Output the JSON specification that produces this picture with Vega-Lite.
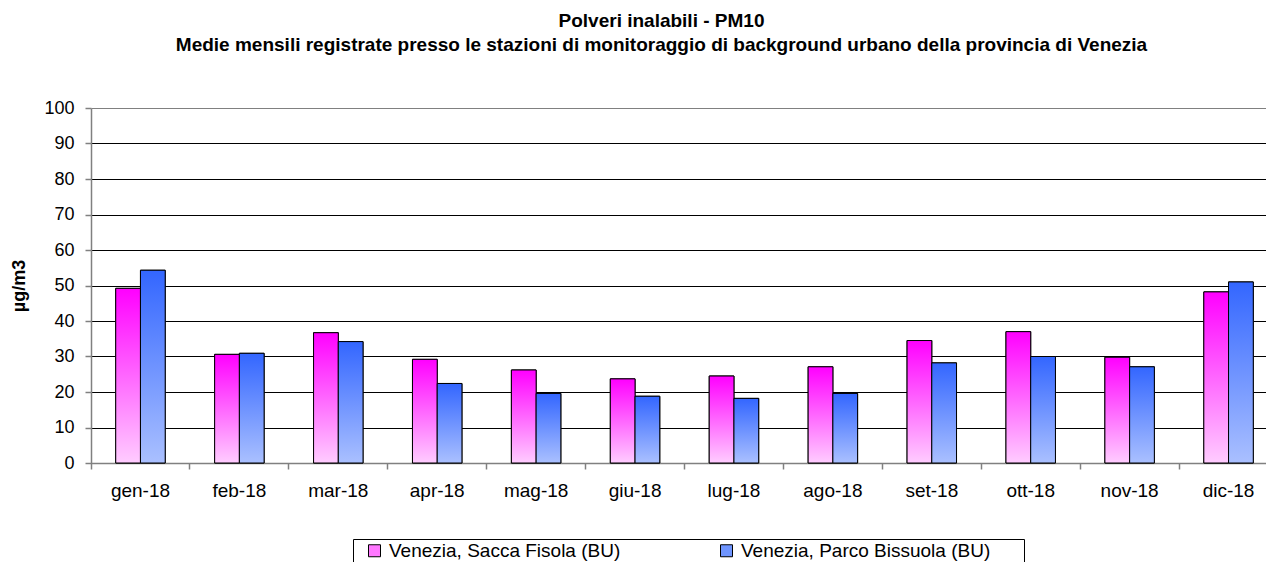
{
  "$schema": "https://vega.github.io/schema/vega-lite/v6.json",
  "autosize": "none",
  "width": 1175,
  "height": 355,
  "padding": {"left": 91, "top": 108, "right": 0, "bottom": 99},
  "background": "white",
  "config": {
    "font": "Liberation Sans",
    "view": {"stroke": null}
  },
  "title": {
    "text": "Polveri inalabili - PM10",
    "subtitle": "Medie mensili registrate presso le stazioni di monitoraggio di background urbano della provincia di Venezia",
    "anchor": "middle",
    "frame": "group",
    "dx": -17,
    "offset": 44,
    "font": "Liberation Sans",
    "fontSize": 19,
    "fontWeight": "bold",
    "color": "black",
    "subtitleFont": "Liberation Sans",
    "subtitleFontSize": 19,
    "subtitleFontWeight": "bold",
    "subtitleColor": "black",
    "subtitlePadding": 5
  },
  "data": {
    "values": [
      {"mese": "gen-18", "stazione": "Venezia, Sacca Fisola (BU)", "valore": 49.2},
      {"mese": "gen-18", "stazione": "Venezia, Parco Bissuola (BU)", "valore": 54.3},
      {"mese": "feb-18", "stazione": "Venezia, Sacca Fisola (BU)", "valore": 30.6},
      {"mese": "feb-18", "stazione": "Venezia, Parco Bissuola (BU)", "valore": 30.9},
      {"mese": "mar-18", "stazione": "Venezia, Sacca Fisola (BU)", "valore": 36.7},
      {"mese": "mar-18", "stazione": "Venezia, Parco Bissuola (BU)", "valore": 34.2},
      {"mese": "apr-18", "stazione": "Venezia, Sacca Fisola (BU)", "valore": 29.2},
      {"mese": "apr-18", "stazione": "Venezia, Parco Bissuola (BU)", "valore": 22.4},
      {"mese": "mag-18", "stazione": "Venezia, Sacca Fisola (BU)", "valore": 26.2},
      {"mese": "mag-18", "stazione": "Venezia, Parco Bissuola (BU)", "valore": 19.6},
      {"mese": "giu-18", "stazione": "Venezia, Sacca Fisola (BU)", "valore": 23.7},
      {"mese": "giu-18", "stazione": "Venezia, Parco Bissuola (BU)", "valore": 18.8},
      {"mese": "lug-18", "stazione": "Venezia, Sacca Fisola (BU)", "valore": 24.5},
      {"mese": "lug-18", "stazione": "Venezia, Parco Bissuola (BU)", "valore": 18.2},
      {"mese": "ago-18", "stazione": "Venezia, Sacca Fisola (BU)", "valore": 27.1},
      {"mese": "ago-18", "stazione": "Venezia, Parco Bissuola (BU)", "valore": 19.6},
      {"mese": "set-18", "stazione": "Venezia, Sacca Fisola (BU)", "valore": 34.5},
      {"mese": "set-18", "stazione": "Venezia, Parco Bissuola (BU)", "valore": 28.2},
      {"mese": "ott-18", "stazione": "Venezia, Sacca Fisola (BU)", "valore": 37.0},
      {"mese": "ott-18", "stazione": "Venezia, Parco Bissuola (BU)", "valore": 30.0},
      {"mese": "nov-18", "stazione": "Venezia, Sacca Fisola (BU)", "valore": 29.8},
      {"mese": "nov-18", "stazione": "Venezia, Parco Bissuola (BU)", "valore": 27.1},
      {"mese": "dic-18", "stazione": "Venezia, Sacca Fisola (BU)", "valore": 48.2},
      {"mese": "dic-18", "stazione": "Venezia, Parco Bissuola (BU)", "valore": 51.0}
    ]
  },
  "encoding": {
    "x": {
      "field": "mese",
      "type": "nominal",
      "sort": ["gen-18", "feb-18", "mar-18", "apr-18", "mag-18", "giu-18", "lug-18", "ago-18", "set-18", "ott-18", "nov-18", "dic-18"],
      "scale": {"range": [0, 1187], "paddingInner": 0, "paddingOuter": 0},
      "axis": {
        "title": null,
        "labelAngle": 0,
        "labelFont": "Liberation Sans",
        "labelFontSize": 19,
        "labelColor": "black",
        "labelPadding": 12,
        "domainColor": "#808080",
        "domainWidth": 1.5,
        "tickColor": "#808080",
        "tickWidth": 1.5,
        "tickSize": 6,
        "bandPosition": 0,
        "grid": false
      }
    },
    "xOffset": {
      "field": "stazione",
      "type": "nominal",
      "sort": ["Venezia, Sacca Fisola (BU)", "Venezia, Parco Bissuola (BU)"],
      "scale": {"paddingInner": 0, "paddingOuter": 1.25}
    },
    "y": {
      "field": "valore",
      "type": "quantitative",
      "scale": {"domain": [0, 100], "nice": false},
      "axis": {
        "title": "µg/m3",
        "titleFont": "Liberation Sans",
        "titleFontSize": 18,
        "titleFontWeight": "bold",
        "titleColor": "black",
        "titlePadding": 15,
        "values": [0, 10, 20, 30, 40, 50, 60, 70, 80, 90, 100],
        "labelFont": "Liberation Sans",
        "labelFontSize": 18,
        "labelColor": "black",
        "labelPadding": 11,
        "domainColor": "#808080",
        "domainWidth": 1.5,
        "tickColor": "#808080",
        "tickWidth": 1.5,
        "tickSize": 6,
        "grid": true,
        "gridColor": {"condition": {"test": "datum.value === 100", "value": "#808080"}, "value": "black"},
        "gridWidth": 1.2
      }
    }
  },
  "layer": [
    {
      "mark": {"type": "bar", "stroke": "black", "strokeWidth": 1},
      "encoding": {
        "color": {
          "field": "stazione",
          "type": "nominal",
          "scale": {
            "domain": ["Venezia, Sacca Fisola (BU)", "Venezia, Parco Bissuola (BU)"],
            "range": ["#FF77FF", "#6F95FF"]
          },
          "legend": {
            "title": null,
            "orient": "none",
            "legendX": 262,
            "legendY": 431,
            "direction": "horizontal",
            "columns": 2,
            "columnPadding": 86,
            "padding": 2,
            "symbolOffset": 10,
            "strokeColor": "black",
            "fillColor": "white",
            "symbolType": "square",
            "symbolSize": 144,
            "symbolStrokeColor": "black",
            "symbolStrokeWidth": 1,
            "labelFont": "Liberation Sans",
            "labelFontSize": 19,
            "labelColor": "black",
            "labelOffset": 5,
            "labelLimit": 500,
            "labelExpr": "datum.value === 'Venezia, Parco Bissuola (BU)' ? datum.label + '\u00a0\u00a0\u00a0\u00a0\u00a0\u00a0\u200b' : datum.label"
          }
        }
      }
    },
    {
      "mark": {"type": "bar", "stroke": "black", "strokeWidth": 1},
      "encoding": {
        "fill": {
          "condition": {
            "test": "datum.stazione === 'Venezia, Sacca Fisola (BU)'",
            "value": {"gradient": "linear", "x1": 0, "y1": 0, "x2": 0, "y2": 1, "stops": [{"offset": 0, "color": "#FF00FF"}, {"offset": 1, "color": "#FFCCFF"}]}
          },
          "value": {"gradient": "linear", "x1": 0, "y1": 0, "x2": 0, "y2": 1, "stops": [{"offset": 0, "color": "#3366FF"}, {"offset": 1, "color": "#AAC0FF"}]}
        }
      }
    }
  ]
}
